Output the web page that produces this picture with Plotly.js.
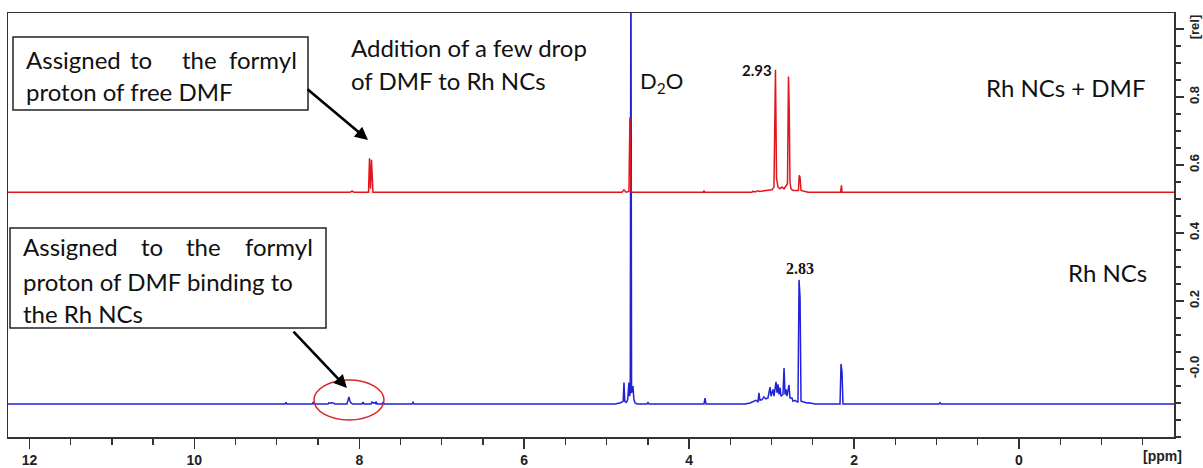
<!DOCTYPE html>
<html><head><meta charset="utf-8">
<script src="https://cdn.plot.ly/plotly-3.0.1.min.js"></script>
<style>html,body{margin:0;padding:0;background:#fff}#c{width:1203px;height:468px}</style>
</head><body><div id="c"></div>
<script>
// ---- data (chemical shift in ppm, relative intensity) ----
// Rh NCs + DMF (red, offset spectrum)
const redPpm = [12.26,8.11,8.088,8.064,7.888,7.876,7.864,7.852,7.834,4.815,4.79,4.766,4.73,4.718,4.706,4.693,3.826,3.82,3.814,
  3.237,3.225,3.201,3.165,3.141,3.092,3.044,2.995,2.971,2.959,2.953,2.94,2.922,2.898,2.874,2.849,2.825,2.807,2.795,2.786,2.777,2.765,2.74,2.716,
  2.674,2.665,2.656,2.643,2.595,2.558,2.164,2.161,2.152,2.146,-1.88];
const redVal = [0.52,0.52,0.523,0.52,0.52,0.62,0.53,0.615,0.52,0.52,0.527,0.52,0.522,0.74,0.524,0.52,0.52,0.525,0.52,
  0.52,0.523,0.521,0.524,0.522,0.524,0.525,0.527,0.535,0.78,0.88,0.56,0.535,0.53,0.535,0.53,0.54,0.545,0.86,0.76,0.55,0.53,0.525,0.525,
  0.525,0.57,0.565,0.525,0.522,0.52,0.52,0.54,0.54,0.52,0.52];

// Rh NCs (blue)
const bluePpm = [12.26,8.90,8.889,8.878,8.572,8.561,8.55,8.38,8.367,8.349,8.331,8.312,8.294,8.15,8.137,8.125,8.113,8.10,8.08,7.967,7.955,7.943,7.858,7.846,7.834,7.81,7.80,7.797,7.785,7.724,7.712,7.70,7.36,7.348,7.336,
  4.90,4.84,4.80,4.79,4.78,4.76,4.745,4.73,4.722,4.714,4.706,4.698,4.681,4.67,4.655,4.63,4.51,4.499,4.487,3.82,3.807,3.795,
  3.322,3.262,3.225,3.189,3.165,3.153,3.141,3.116,3.092,3.068,3.044,3.019,3.007,2.983,2.971,2.946,2.934,2.922,2.91,2.898,2.886,2.862,2.849,2.837,2.825,2.813,2.789,2.777,2.753,2.74,2.716,2.692,2.68,2.667,2.655,2.643,2.619,2.595,2.57,2.546,2.522,2.473,
  2.17,2.158,2.146,2.134,1.685,0.97,0.958,0.946,-1.88];
const blueVal = [-0.103,-0.103,-0.098,-0.103,-0.103,-0.099,-0.103,-0.103,-0.099,-0.101,-0.099,-0.101,-0.103,-0.103,-0.095,-0.082,-0.095,-0.100,-0.103,-0.103,-0.097,-0.103,-0.103,-0.097,-0.100,-0.099,-0.103,-0.096,-0.103,-0.103,-0.097,-0.103,-0.103,-0.098,-0.103,
  -0.103,-0.100,-0.095,-0.040,-0.095,-0.098,-0.090,-0.040,-0.080,-0.070,1.30,-0.070,-0.050,-0.090,-0.100,-0.103,-0.103,-0.099,-0.103,-0.103,-0.086,-0.103,
  -0.103,-0.100,-0.097,-0.092,-0.096,-0.070,-0.092,-0.090,-0.082,-0.088,-0.085,-0.053,-0.080,-0.060,-0.080,-0.038,-0.070,-0.045,-0.075,-0.055,-0.080,-0.075,0.003,-0.075,-0.060,-0.080,-0.047,-0.085,-0.085,-0.095,-0.092,-0.096,-0.098,0.262,0.21,-0.095,-0.097,-0.098,-0.100,-0.099,-0.101,-0.103,
  -0.103,0.015,-0.009,-0.103,-0.103,-0.103,-0.099,-0.103,-0.103];

const xTickVals = [12,10,8,6,4,2,0];
const xTickText = ['12','10','8','6','4','2','0'];
const yTickVals = [1.0,0.8,0.6,0.4,0.2,0.0];
const yTickText = ['[rel]','0.8','0.6','0.4','0.2','-0.0'];

// ---- layout helpers (pixel -> paper) ----
const L=8,R=1174,T=13,B=437;
const px = x => (x-L)/(R-L);
const py = y => (B-y)/(B-T);

const txtFont = {family:'Lato, "Open Sans", sans-serif', size:24, color:'#111'};
const tickFont = {family:'"Liberation Sans Narrow","Liberation Sans",Arial,sans-serif', size:14, color:'#222', weight:'bold'};

function txt(x,y,t,anchor,font){return {xref:'paper',yref:'paper',x:px(x),y:py(y),text:t,showarrow:false,xanchor:anchor||'left',yanchor:'middle',font:font||txtFont};}
function arrow(x0,y0,x1,y1){return {xref:'paper',yref:'paper',x:px(x1),y:py(y1),ax:x0-x1,ay:y0-y1,axref:'pixel',ayref:'pixel',text:' ',showarrow:true,arrowhead:2,arrowsize:1,arrowwidth:2.6,arrowcolor:'#000',font:{size:1}};}

const traces = [
  {x:bluePpm,y:blueVal,type:'scatter',mode:'lines',line:{color:'#2121d6',width:1.5},hoverinfo:'skip'},
  {x:redPpm,y:redVal,type:'scatter',mode:'lines',line:{color:'#e2151d',width:1.5},hoverinfo:'skip'}
];

const annotations = [
  txt(24,60,'Assigned'), txt(141,60,'to','center'), txt(199,60,'the','center'), txt(299,60,'formyl','right'),
  txt(24,91,'proton of free DMF'),
  txt(349,48,'Addition of a few drop'), txt(349,80,'of DMF to Rh NCs'),
  txt(638,82,'D<sub>2</sub>O',null,{family:'Lato, "Open Sans", sans-serif', size:22, color:'#111'}),
  txt(984,87,'Rh NCs + DMF'),
  txt(1066,272,'Rh NCs'),
  txt(757,70,'2.93','center',{family:'Lato, sans-serif',size:15,color:'#111',weight:'bold'}),
  txt(800,268,'2.83','center',{family:'"Liberation Serif", serif',size:16,color:'#111',weight:'bold'}),
  txt(21,247,'Assigned'), txt(152,247,'to','center'), txt(203,247,'the','center'), txt(315,247,'formyl','right'),
  txt(21,281,'proton of DMF binding to'),
  txt(21,313,'the Rh NCs'),
  txt(1162,456,'[ppm]','center',tickFont),
  arrow(306,88,368,140),
  arrow(292,330,347,388)
];

const shapes = [
  {type:'rect',xref:'paper',yref:'paper',x0:px(13),x1:px(308),y0:py(37),y1:py(110),line:{color:'#222',width:1.5},fillcolor:'rgba(0,0,0,0)'},
  {type:'rect',xref:'paper',yref:'paper',x0:px(10),x1:px(326),y0:py(228),y1:py(328),line:{color:'#222',width:1.5},fillcolor:'rgba(0,0,0,0)'},
  {type:'circle',xref:'paper',yref:'paper',x0:px(314),x1:px(384),y0:py(380),y1:py(420),line:{color:'#d8262a',width:1.5}}
];

const layout = {
  width:1203,height:468,
  margin:{l:L,r:1203-R,t:T,b:468-B,pad:0},
  paper_bgcolor:'#fff',plot_bgcolor:'#fff',
  showlegend:false,
  xaxis:{range:[12.26,-1.88],tickmode:'array',tickvals:xTickVals,ticktext:xTickText,ticks:'outside',ticklen:10,tickwidth:1.5,tickcolor:'#333',
    minor:{dtick:0.5,tick0:0,ticks:'outside',ticklen:6,tickwidth:1.3,tickcolor:'#333'},
    showline:true,linecolor:'#333',linewidth:1.5,mirror:true,showgrid:false,zeroline:false,tickfont:tickFont},
  yaxis:{range:[-0.2,1.047],side:'right',tickmode:'array',tickvals:yTickVals,ticktext:yTickText,tickangle:-90,ticks:'outside',ticklen:8,tickwidth:1.5,tickcolor:'#333',
    minor:{dtick:0.05,tick0:0,ticks:'outside',ticklen:5,tickwidth:1.3,tickcolor:'#333'},
    showline:true,linecolor:'#333',linewidth:1.5,mirror:true,showgrid:false,zeroline:false,tickfont:Object.assign({},tickFont,{size:13})},
  annotations:annotations,
  shapes:shapes
};

Plotly.newPlot('c',traces,layout,{staticPlot:true,displayModeBar:false});
</script></body></html>
